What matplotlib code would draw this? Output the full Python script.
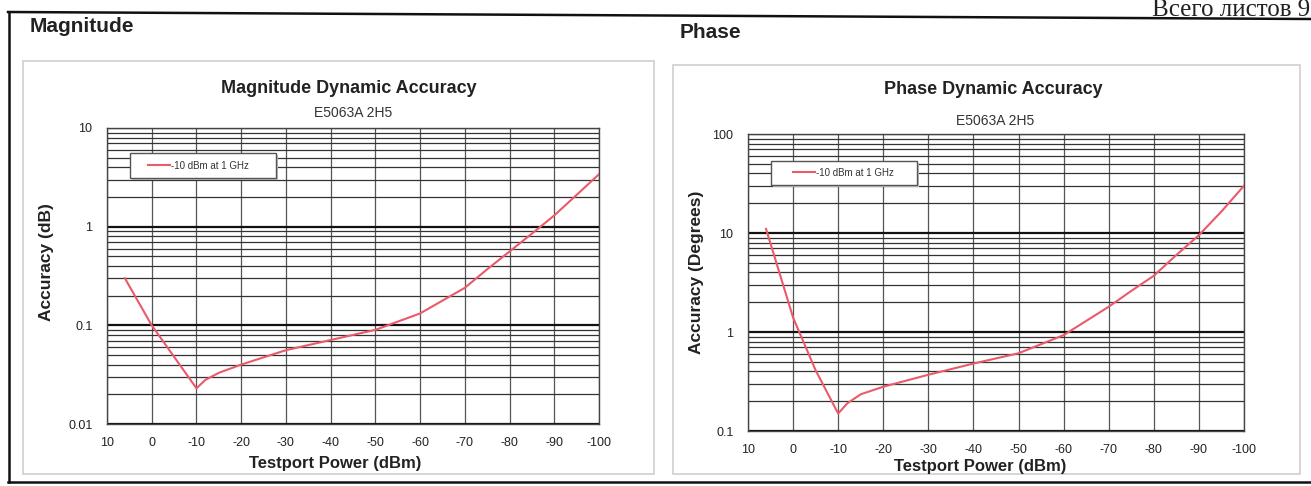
import matplotlib
matplotlib.use("Agg")
import matplotlib.pyplot as plt
from matplotlib.patches import Rectangle
from matplotlib.lines import Line2D
from matplotlib.ticker import FuncFormatter, NullFormatter, LogLocator, FixedLocator

# ---------------- data ----------------
x_ticks = [10, 0, -10, -20, -30, -40, -50, -60, -70, -80, -90, -100]

mag_power = [6, 0, -5, -10, -12, -15, -20, -30, -40, -50, -60, -70, -75, -80, -85, -90, -95, -100]
mag_acc = [0.30, 0.10, 0.048, 0.023, 0.028, 0.033, 0.040, 0.056, 0.071, 0.090,
           0.132, 0.24, 0.37, 0.56, 0.85, 1.30, 2.1, 3.4]

phase_power = [6, 0, -5, -10, -12, -15, -20, -30, -40, -50, -60, -70, -75, -80, -85, -90, -95, -100]
phase_acc = [11.0, 1.4, 0.41, 0.15, 0.19, 0.235, 0.28, 0.37, 0.48, 0.61,
             0.93, 1.8, 2.6, 3.7, 6.0, 9.5, 16.5, 30.0]

series_label = "-10 dBm at 1 GHz"
subtitle = "E5063A 2H5"

W, H = 1311, 486
plt.rcParams['font.family'] = ['Liberation Sans', 'DejaVu Sans']

fig = plt.figure(figsize=(W / 100, H / 100), dpi=100)
fig.patch.set_facecolor("white")


def fx(px):
    return px / W


def fy(py):
    return 1 - py / H


def ax_rect(x0, y0, x1, y1):
    return [fx(x0), fy(y1), fx(x1) - fx(x0), fy(y0) - fy(y1)]


# outer frame (scanned page, top edge slightly tilted)
for (xa, ya, xb, yb) in [(8, 12, 1311, 19), (8.5, 12, 8.5, 482), (8, 482, 1311, 482)]:
    fig.add_artist(Line2D([fx(xa), fx(xb)], [fy(ya), fy(yb)], color="#111111", lw=1.8,
                          transform=fig.transFigure))

# panels
for (x0, y0, x1, y1) in [(23, 61, 654, 474), (673, 65, 1300, 474)]:
    fig.add_artist(Rectangle((fx(x0), fy(y1)), fx(x1) - fx(x0), fy(y0) - fy(y1),
                             transform=fig.transFigure, fill=False,
                             edgecolor="#cfcfcf", lw=1.2))

# headings
fig.text(fx(30), fy(26), "Magnitude", fontsize=15, fontweight="bold", color="#222222",
         ha="left", va="center")
fig.text(fx(680), fy(32), "Phase", fontsize=15, fontweight="bold", color="#222222",
         ha="left", va="center")
fig.text(fx(1310), fy(16), "Всего листов 9", fontsize=18, family=["Liberation Serif", "DejaVu Serif"],
         color="#222222", ha="right", va="baseline")


def setup(ax, power, acc, ylim, ylabel, title, title_xy, sub_xy, ylabel_x, xlabel_xy,
          leg_handle_xy, leg_box):
    ax.plot(power, acc, color="#ea5a68", lw=1.5, zorder=5, label=series_label)
    ax.set_yscale("log")
    ax.set_ylim(*ylim)
    ax.set_xlim(10, -100)
    ax.xaxis.set_major_locator(FixedLocator(x_ticks))
    ax.yaxis.set_major_locator(LogLocator(base=10, numticks=10))
    ax.yaxis.set_minor_locator(LogLocator(base=10, subs=range(2, 10), numticks=50))
    ax.yaxis.set_major_formatter(FuncFormatter(lambda v, p: f"{v:g}"))
    ax.yaxis.set_minor_formatter(NullFormatter())
    ax.xaxis.set_major_formatter(FuncFormatter(lambda v, p: f"{v:g}"))
    ax.tick_params(which="both", length=0)
    ax.tick_params(axis="y", pad=10.5, labelsize=9, labelcolor="#222222")
    ax.tick_params(axis="x", pad=9, labelsize=9, labelcolor="#222222")
    ax.grid(True, which="major", axis="y", color="#111111", lw=1.6)
    ax.grid(True, which="minor", axis="y", color="#333333", lw=0.9)
    ax.grid(True, which="major", axis="x", color="#555555", lw=0.9)
    ax.set_axisbelow(True)
    for s in ax.spines.values():
        s.set_color("#444444")
        s.set_linewidth(1.0)

    fig.text(fx(title_xy[0]), fy(title_xy[1]), title, fontsize=13, fontweight="bold",
             color="#222222", ha="center", va="center")
    fig.text(fx(sub_xy[0]), fy(sub_xy[1]), subtitle, fontsize=10, color="#333333",
             ha="center", va="center")
    fig.text(fx(ylabel_x[0]), fy(ylabel_x[1]), ylabel, fontsize=12.5, fontweight="bold",
             color="#222222", ha="center", va="center", rotation=90)
    fig.text(fx(xlabel_xy[0]), fy(xlabel_xy[1]), "Testport Power (dBm)", fontsize=12,
             fontweight="bold", color="#222222", ha="center", va="center")

    # legend box (with light shadow) and legend entry
    bx, by, bw, bh = leg_box
    ax.add_patch(Rectangle((bx + 0.004, by - 0.008), bw, bh, transform=ax.transAxes,
                           facecolor="#bdbdbd", edgecolor="none", zorder=6))
    ax.add_patch(Rectangle((bx, by), bw, bh, transform=ax.transAxes,
                           facecolor="white", edgecolor="#555555", lw=1.0, zorder=7))
    leg = ax.legend(loc="center left", bbox_to_anchor=leg_handle_xy, frameon=False,
                    borderpad=0, borderaxespad=0, handlelength=2.3, handletextpad=0.1,
                    fontsize=7)
    leg.set_zorder(8)
    for t in leg.get_texts():
        t.set_color("#333333")


ax1 = fig.add_axes(ax_rect(107, 128, 599, 424))
setup(ax1, mag_power, mag_acc, (0.01, 10), "Accuracy (dB)", "Magnitude Dynamic Accuracy",
      (349, 88), (353, 113), (47, 262), (335, 463),
      (0.0833, 0.873), (0.0467, 0.831, 0.2968, 0.0845))

ax2 = fig.add_axes(ax_rect(748, 134, 1244, 431))
setup(ax2, phase_power, phase_acc, (0.1, 100), "Accuracy (Degrees)", "Phase Dynamic Accuracy",
      (993, 90), (995, 121), (697, 272), (980, 466),
      (0.0907, 0.8697), (0.0464, 0.828, 0.2944, 0.0808))

fig.savefig("out.png", dpi=100, facecolor="white")
